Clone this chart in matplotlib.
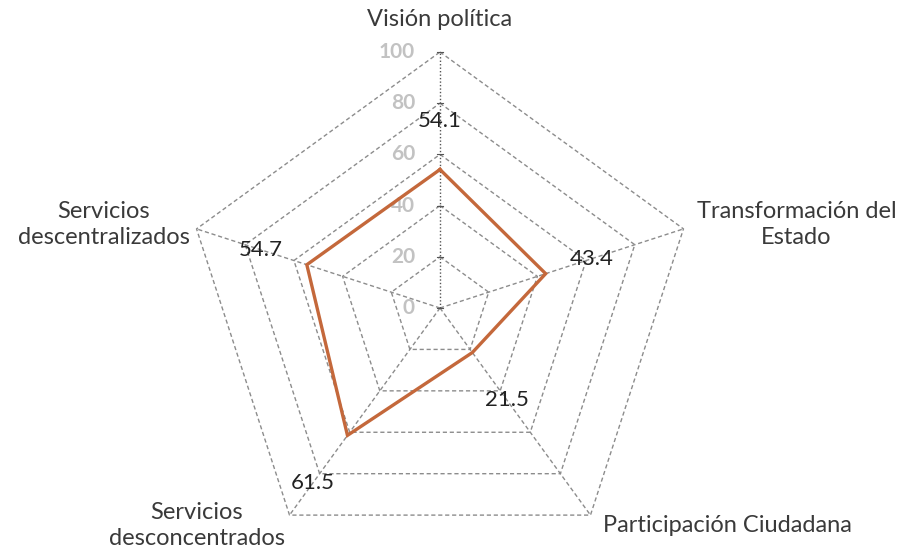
"""Radar chart: evaluation dimensions (pentagon grid, single series)."""

import matplotlib

matplotlib.use("Agg")
import matplotlib.pyplot as plt
import numpy as np

categories = [
    "Visión política",
    "Transformación del\nEstado",
    "Participación Ciudadana",
    "Servicios\ndesconcentrados",
    "Servicios\ndescentralizados",
]
values = [54.1, 43.4, 21.5, 61.5, 54.7]
ticks = [0, 20, 40, 60, 80, 100]

# label placement (pixels from the outer vertex) and data-label radial offsets
cat_offsets = [(0, 32), (113, 4), (137, -10), (-93, -10), (-93, 4)]
val_offsets = [19, 19, 23, 23, 19]

LINE_COLOR = "#C4683B"
GRID_COLOR = "#8C8C8C"
TEXT_COLOR = "#3A3A3A"

plt.rcParams["font.family"] = ["Lato", "DejaVu Sans"]

n = len(categories)
angles = np.pi / 2 - 2 * np.pi * np.arange(n) / n  # clockwise from top
ux, uy = np.cos(angles), np.sin(angles)

fig = plt.figure(figsize=(9.07, 5.6), dpi=100)
ax = fig.add_axes([0, 0, 1, 1])
scale = 2.56  # pixels per unit
ax.set_xlim(-440 / scale, (907 - 440) / scale)
ax.set_ylim(-(560 - 308) / scale, 308 / scale)
ax.set_aspect("equal")
ax.axis("off")

# pentagon grid
for t in ticks[1:]:
    xs = np.append(ux * t, ux[0] * t)
    ys = np.append(uy * t, uy[0] * t)
    ax.plot(xs, ys, color=GRID_COLOR, lw=1, ls=(0, (3, 2)), zorder=1)

# spokes
for i in range(1, n):
    ax.plot([0, ux[i] * 100], [0, uy[i] * 100], color=GRID_COLOR, lw=1,
            ls=(0, (3, 2)), zorder=1)

# value axis (vertical) with tick marks
ax.plot([0, 0], [0, 100], color="#555555", lw=1, ls=(0, (1, 1.5)), zorder=2)
for t in ticks:
    ax.plot([-1.2, 1.2], [t, t], color="#555555", lw=0.8, zorder=2)
    ax.annotate(str(t), (0, t), xytext=(-25, 0), textcoords="offset pixels",
                ha="right", va="center", fontsize=15, fontweight="bold",
                color="#C2C2C2", zorder=3)

# series
xs = np.append(ux * values, ux[0] * values[0])
ys = np.append(uy * values, uy[0] * values[0])
ax.plot(xs, ys, color=LINE_COLOR, lw=2.4, solid_joinstyle="miter", zorder=4)

# data labels
for i, v in enumerate(values):
    r = v + val_offsets[i]
    ax.text(ux[i] * r, uy[i] * r, f"{v:.1f}", ha="center", va="center",
            fontsize=16, color="#222222", zorder=5)

# category labels
for i, name in enumerate(categories):
    ax.annotate(name, (ux[i] * 100, uy[i] * 100), xytext=cat_offsets[i],
                textcoords="offset pixels", ha="center", va="center",
                multialignment="center", fontsize=17, color=TEXT_COLOR,
                linespacing=1.3)

fig.savefig("out.png", dpi=100)
